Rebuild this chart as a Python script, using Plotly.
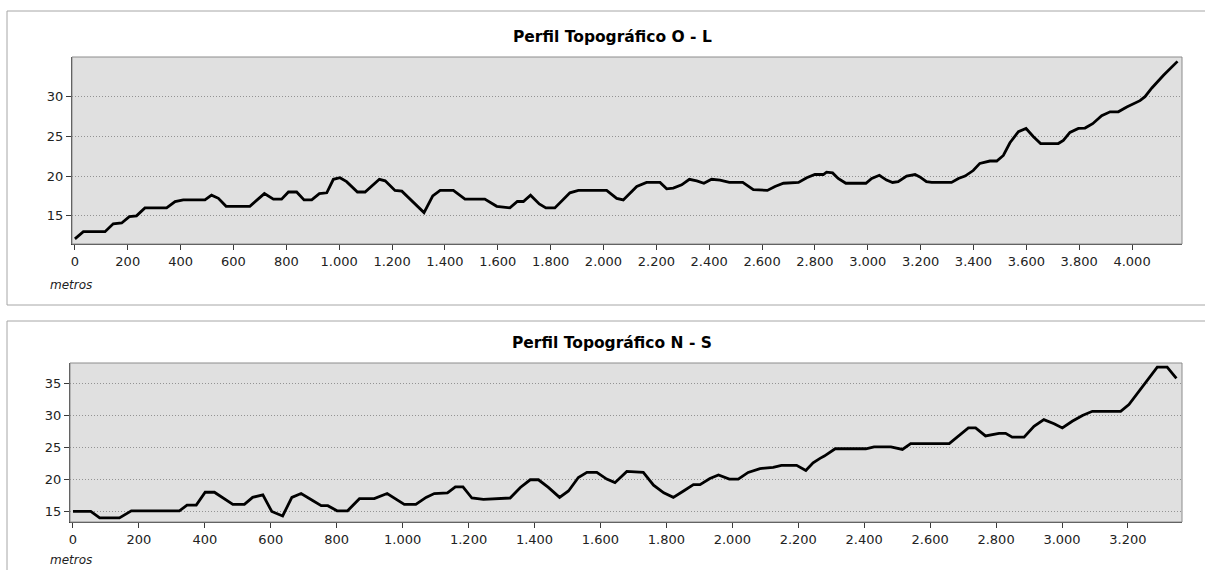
import plotly.graph_objects as go

# ---- data ----
ol_dist = [0, 32, 114, 145, 177, 206, 233, 265, 347, 379, 410, 492, 517, 543, 572, 662, 717, 751, 782, 808,
           839, 867, 896, 925, 953, 978, 1003, 1028, 1069, 1098, 1152, 1174, 1211, 1237, 1321, 1354, 1382, 1432, 1476, 1551,
           1596, 1646, 1674, 1697, 1724, 1757, 1782, 1816, 1873, 1905, 2012, 2050, 2075, 2126, 2163, 2214, 2239, 2264, 2296, 2325,
           2353, 2380, 2409, 2441, 2476, 2527, 2567, 2620, 2649, 2681, 2738, 2769, 2800, 2832, 2844, 2867, 2888, 2917, 2993, 3015,
           3044, 3071, 3094, 3115, 3147, 3179, 3197, 3222, 3242, 3317, 3343, 3368, 3399, 3424, 3462, 3488, 3513, 3538, 3570, 3599,
           3626, 3654, 3721, 3740, 3765, 3797, 3822, 3851, 3885, 3917, 3948, 3980, 4030, 4049, 4075, 4119, 4172]
ol_elev = [12.1, 13, 13, 14, 14.1, 14.9, 15, 16, 16, 16.8, 17, 17, 17.6, 17.2, 16.2, 16.2, 17.8, 17.1, 17.1, 18,
           18, 17, 17, 17.8, 17.9, 19.6, 19.8, 19.3, 18, 18, 19.6, 19.4, 18.2, 18.1, 15.4, 17.5, 18.2, 18.2, 17.1, 17.1,
           16.2, 16, 16.8, 16.8, 17.6, 16.5, 16, 16, 17.9, 18.2, 18.2, 17.2, 17, 18.7, 19.2, 19.2, 18.4, 18.5, 18.9, 19.6,
           19.4, 19.1, 19.6, 19.5, 19.2, 19.2, 18.3, 18.2, 18.7, 19.1, 19.2, 19.8, 20.2, 20.2, 20.5, 20.4, 19.7, 19.1, 19.1, 19.7,
           20.1, 19.5, 19.2, 19.3, 20, 20.2, 19.9, 19.3, 19.2, 19.2, 19.7, 20, 20.7, 21.6, 21.9, 21.9, 22.6, 24.2, 25.6, 26,
           25, 24.1, 24.1, 24.5, 25.5, 26, 26.05, 26.6, 27.6, 28.1, 28.1, 28.7, 29.5, 30, 31.1, 32.7, 34.45]

ns_dist = [0, 54, 81, 141, 177, 323, 346, 374, 401, 429, 485, 520, 545, 576, 603, 636, 664, 692, 727, 753,
           773, 801, 833, 869, 914, 953, 1005, 1040, 1071, 1096, 1136, 1160, 1183, 1210, 1245, 1326, 1357, 1387, 1412, 1442,
           1476, 1503, 1533, 1559, 1589, 1619, 1644, 1680, 1730, 1761, 1792, 1821, 1852, 1882, 1902, 1932, 1958, 1991, 2018, 2048,
           2084, 2124, 2149, 2195, 2223, 2245, 2266, 2279, 2312, 2405, 2430, 2481, 2516, 2541, 2658, 2683, 2716, 2738, 2768, 2809,
           2829, 2849, 2885, 2915, 2945, 2976, 3001, 3031, 3062, 3092, 3178, 3203, 3233, 3264, 3289, 3319, 3347]
ns_elev = [15, 15, 14, 14, 15.1, 15.1, 16, 16, 18, 18, 16.1, 16.1, 17.2, 17.6, 15, 14.3, 17.2, 17.8, 16.7, 15.9,
           15.9, 15.1, 15.1, 17, 17, 17.8, 16.1, 16.1, 17.2, 17.8, 17.9, 18.85, 18.85, 17.1, 16.9, 17.1, 18.75, 19.95, 19.95, 18.75,
           17.2, 18.2, 20.3, 21.1, 21.1, 20.05, 19.5, 21.25, 21.1, 19.1, 17.9, 17.2, 18.2, 19.2, 19.2, 20.15, 20.7, 20.05, 20.05, 21.1,
           21.7, 21.9, 22.2, 22.2, 21.4, 22.6, 23.3, 23.65, 24.8, 24.8, 25.1, 25.1, 24.7, 25.6, 25.6, 26.6, 28.05, 28.05, 26.8, 27.2,
           27.2, 26.6, 26.6, 28.3, 29.35, 28.7, 28.05, 29.1, 30, 30.65, 30.65, 31.7, 33.75, 35.8, 37.55, 37.55, 35.8]

ol_title = "Perfil Topográfico O - L"
ns_title = "Perfil Topográfico N - S"
x_label = "metros"
ol_yticks = [15, 20, 25, 30]
ns_yticks = [15, 20, 25, 30, 35]

# ---- layout geometry (pixels) ----
W, H = 1205, 570
def px(x): return x / W
def py(y): return 1 - y / H

FONT = "DejaVu Sans, Verdana, sans-serif"
fig = go.Figure()
fig.add_trace(go.Scatter(x=ol_dist, y=ol_elev, mode="lines", line=dict(color="black", width=2.8),
                         xaxis="x", yaxis="y", hoverinfo="x+y"))
fig.add_trace(go.Scatter(x=ns_dist, y=ns_elev, mode="lines", line=dict(color="black", width=2.8),
                         xaxis="x2", yaxis="y2", hoverinfo="x+y"))

common_x = dict(showgrid=False, zeroline=False, showline=True, linecolor="#3a3a3a", linewidth=1,
                ticks="outside", ticklen=5, tickcolor="#3a3a3a", dtick=200, tick0=0,
                tickformat=",d", tickfont=dict(family=FONT, size=13, color="#222"))
common_y = dict(showgrid=True, gridcolor="#939393", griddash="1px,2px", gridwidth=1, zeroline=False,
                showline=True, linecolor="#3a3a3a", linewidth=1, ticks="outside", ticklen=5,
                tickcolor="#3a3a3a", tickfont=dict(family=FONT, size=13, color="#222"))

fig.update_layout(
    width=W, height=H, margin=dict(l=0, r=0, t=0, b=0),
    paper_bgcolor="white", plot_bgcolor="#e0e0e0", showlegend=False,
    separators=",.",
    xaxis=dict(domain=[px(72), px(1182)], range=[-11, 4189], anchor="y", **common_x),
    yaxis=dict(domain=[py(244), py(57)], range=[11.45, 35.0], anchor="x", tickvals=ol_yticks, **common_y),
    xaxis2=dict(domain=[px(70), px(1182)], range=[-9, 3364], anchor="y2", **common_x),
    yaxis2=dict(domain=[py(522), py(363)], range=[13.35, 38.2], anchor="x2", tickvals=ns_yticks, **common_y),
)

shapes = []
# outer frames
shapes.append(dict(type="rect", xref="paper", yref="paper", x0=px(7), x1=1.01, y0=py(305), y1=py(11),
                   line=dict(color="#a6a6a6", width=1), fillcolor="rgba(0,0,0,0)", layer="below"))
shapes.append(dict(type="rect", xref="paper", yref="paper", x0=px(7), x1=1.01, y0=-0.05, y1=py(321),
                   line=dict(color="#a6a6a6", width=1), fillcolor="rgba(0,0,0,0)", layer="below"))
# plot area borders (top/right gray)
for xa, ya in (("x", "y"), ("x2", "y2")):
    shapes.append(dict(type="rect", xref=xa + " domain", yref=ya + " domain", x0=0, x1=1, y0=0, y1=1,
                       line=dict(color="#8c8c8c", width=1), fillcolor="rgba(0,0,0,0)", layer="above"))
fig.update_layout(shapes=shapes)

annotations = [
    dict(text="<b>" + ol_title + "</b>", x=px(612), y=py(37), xref="paper", yref="paper",
         showarrow=False, font=dict(family=FONT, size=15.5, color="black"), xanchor="center", yanchor="middle"),
    dict(text="<b>" + ns_title + "</b>", x=px(612), y=py(343), xref="paper", yref="paper",
         showarrow=False, font=dict(family=FONT, size=15.5, color="black"), xanchor="center", yanchor="middle"),
    dict(text="<i>" + x_label + "</i>", x=px(48), y=py(285), xref="paper", yref="paper",
         showarrow=False, font=dict(family=FONT, size=12, color="#222"), xanchor="left", yanchor="middle"),
    dict(text="<i>" + x_label + "</i>", x=px(48), y=py(560), xref="paper", yref="paper",
         showarrow=False, font=dict(family=FONT, size=12, color="#222"), xanchor="left", yanchor="middle"),
]
fig.update_layout(annotations=annotations)

fig.write_html("out.html", config={"displayModeBar": False},
               post_script="document.body.style.margin='0px';document.body.style.padding='0px';")
